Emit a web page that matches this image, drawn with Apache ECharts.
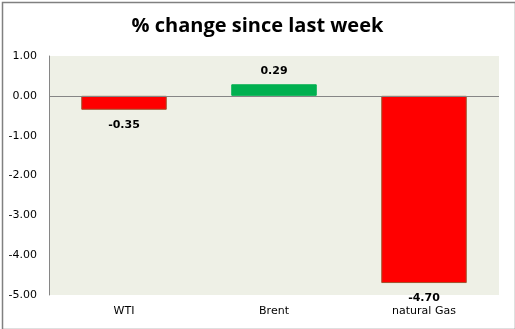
<!DOCTYPE html>
<html><head><meta charset="utf-8">
<script src="https://cdn.jsdelivr.net/npm/echarts@6/dist/echarts.min.js"></script>
<style>html,body{margin:0;padding:0;background:#fff}#c{width:515px;height:329px}</style>
</head><body><div id="c"></div>
<script>
const categories = ['WTI', 'Brent', 'natural Gas'];
const values = [-0.35, 0.29, -4.70];
const yTicks = { min: -5, max: 1, interval: 1 };

const chart = echarts.init(document.getElementById('c'), null, { renderer: 'canvas' });
chart.setOption({
  animation: false,
  backgroundColor: '#ffffff',
  title: {
    text: '% change since last week', left: 'center', top: 11,
    textStyle: { fontFamily: 'Open Sans', fontWeight: 'bold', fontSize: 20, color: '#000' }
  },
  graphic: [{
    type: 'rect', left: 0, top: 0, z: 100, silent: true,
    shape: { x: 0.5, y: 0.5, width: 513, height: 327 },
    style: { fill: 'none', stroke: '#808080', lineWidth: 1.5 }
  }],
  grid: { left: 49, right: 16, top: 56, bottom: 34, show: true, backgroundColor: '#EEF0E6', borderWidth: 0 },
  xAxis: {
    type: 'category', data: categories,
    axisLine: { show: false, onZero: false }, axisTick: { show: false },
    axisLabel: { fontFamily: 'DejaVu Sans', fontSize: 11, color: '#000', margin: 11 }
  },
  yAxis: {
    type: 'value', min: yTicks.min, max: yTicks.max, interval: yTicks.interval,
    axisLine: { show: true, lineStyle: { color: '#868686', width: 1 } },
    axisTick: { show: false }, splitLine: { show: false },
    axisLabel: { fontFamily: 'DejaVu Sans', fontSize: 11, color: '#000', margin: 12,
      formatter: v => v.toFixed(2) }
  },
  series: [{
    type: 'bar', barWidth: '57%',
    data: values.map(v => ({
      value: v,
      itemStyle: v < 0 ? { color: '#FF0000', borderColor: '#A0522D', borderWidth: 1 }
                       : { color: '#00B050', borderColor: '#00B050', borderWidth: 1 },
      label: { position: v < 0 ? 'bottom' : 'top', distance: v < 0 ? 10 : 8 }
    })),
    label: { show: true, fontFamily: 'DejaVu Sans', fontWeight: 'bold', fontSize: 11, color: '#000',
      formatter: p => p.value.toFixed(2) },
    markLine: {
      silent: true, symbol: 'none', label: { show: false },
      lineStyle: { color: '#868686', type: 'solid', width: 1 },
      data: [{ yAxis: 0 }]
    }
  }]
});
</script></body></html>
